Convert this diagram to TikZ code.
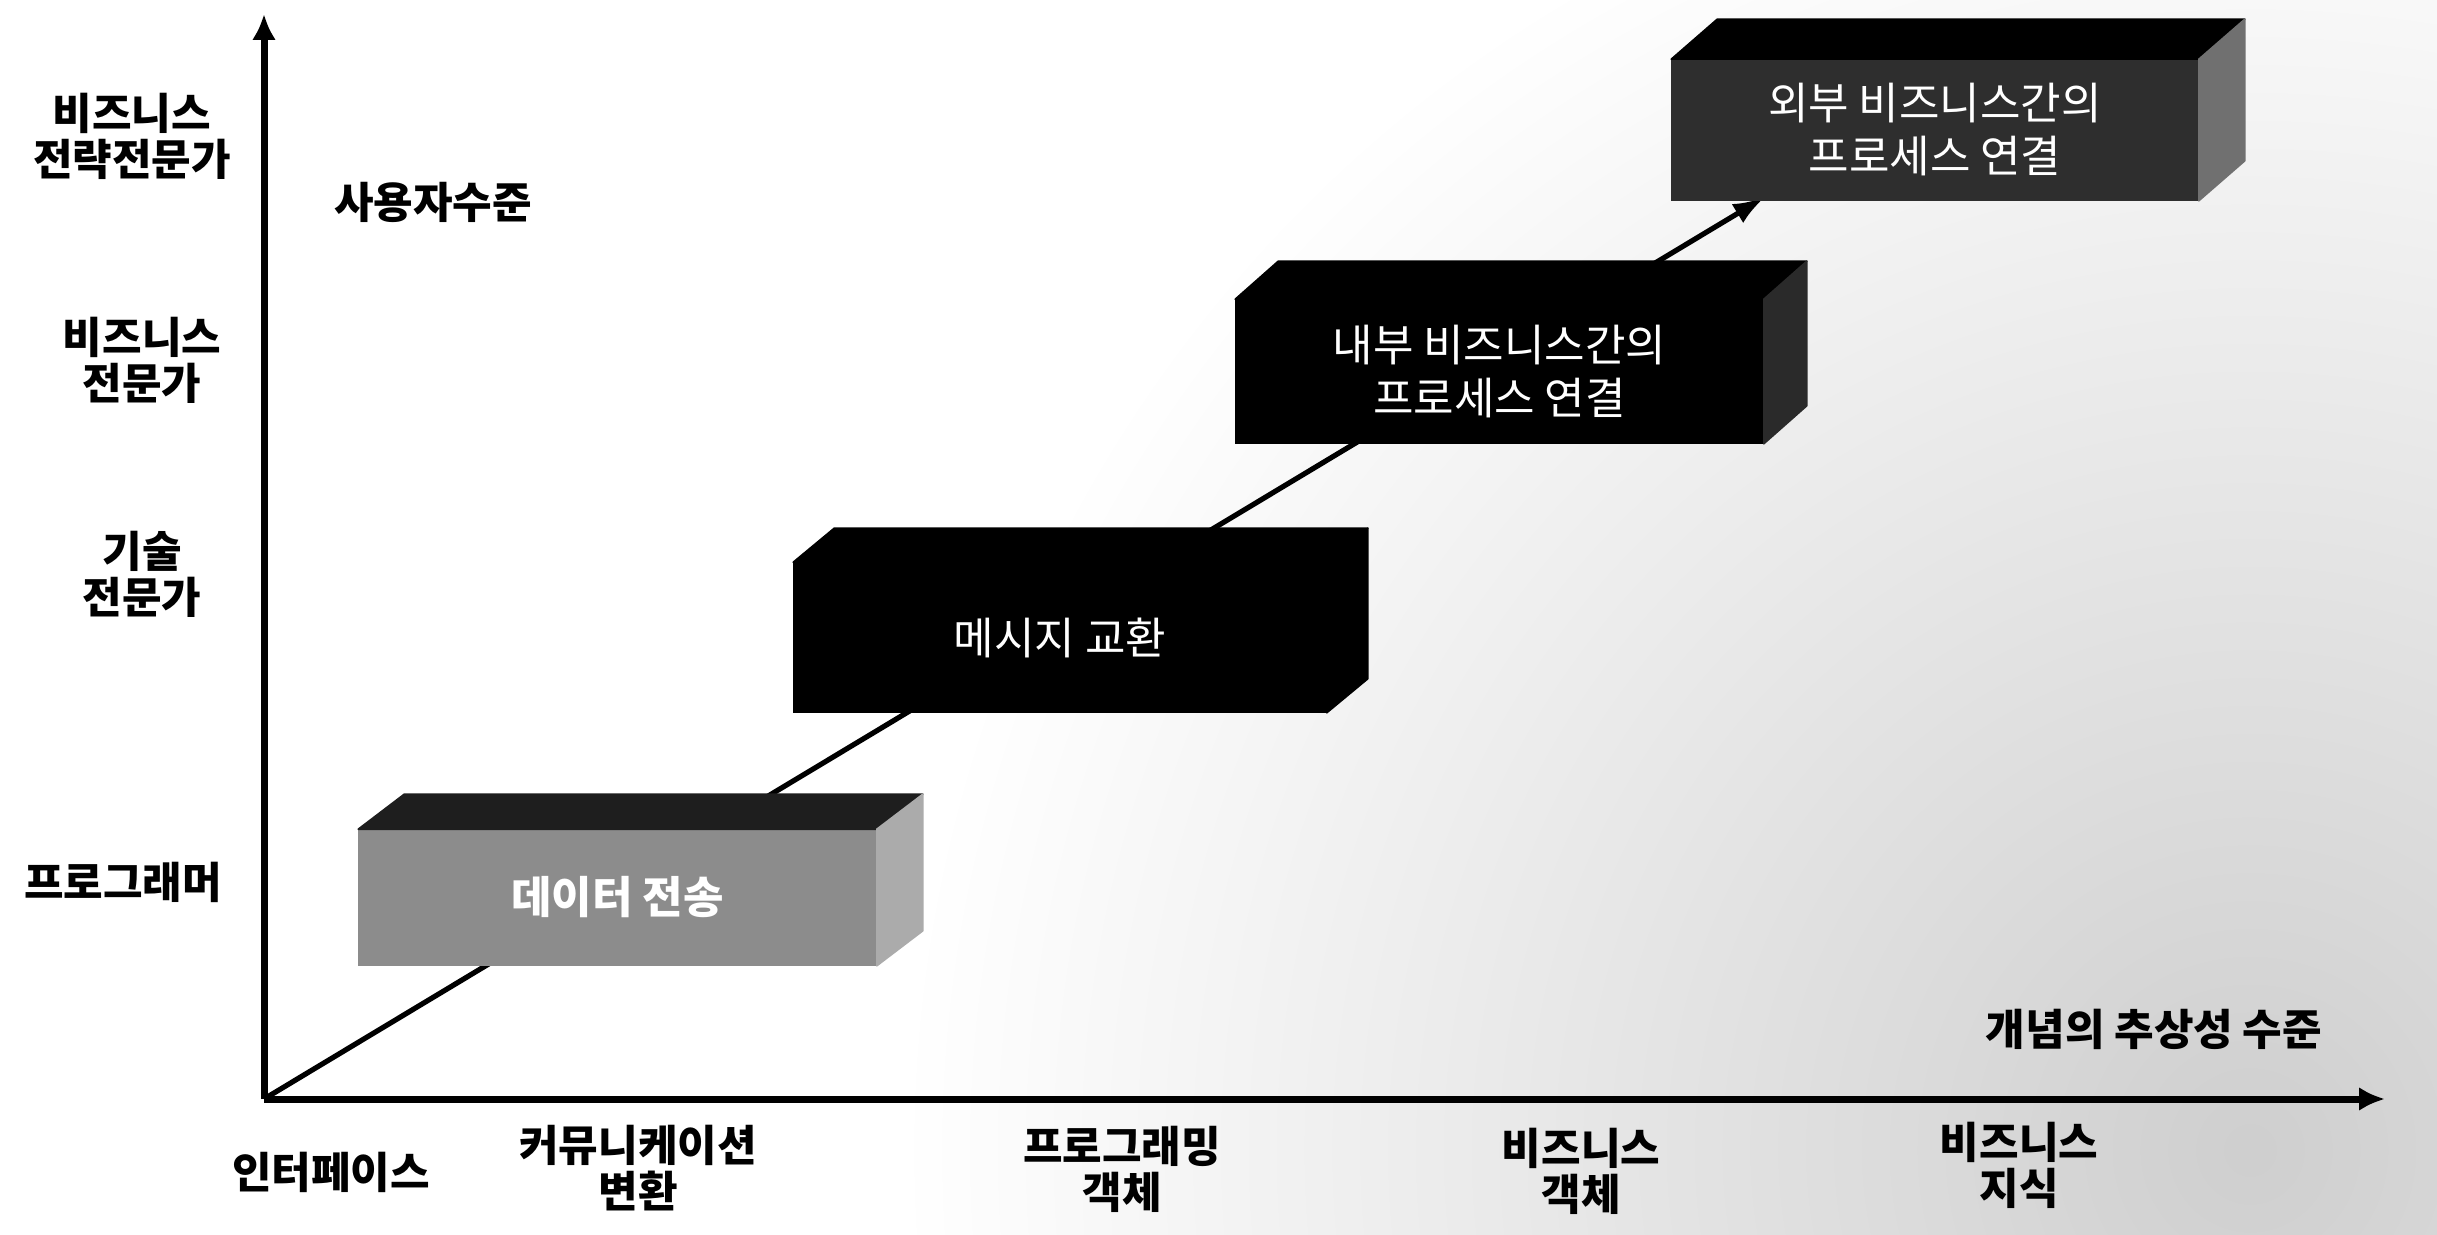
\documentclass[tikz,border=0pt]{standalone}
\usepackage{fontspec}
\setmainfont{Noto Sans CJK KR}
\usetikzlibrary{arrows.meta,calc}
\definecolor{bonefront}{HTML}{8C8C8C}
\definecolor{bonetop}{HTML}{1E1E1E}
\definecolor{boneside}{HTML}{ABABAB}
\definecolor{bfourfront}{HTML}{2E2E2E}
\definecolor{bfourside}{HTML}{707070}
\definecolor{bthreeside}{HTML}{2A2A2A}
\newcommand\boxfaces[5]{%
  \filldraw[fill=#4, draw=#4, line width=0.8pt, line join=round] (#1.north west) -- ++(#2,#3) -- ($(#1.north east)+(#2,#3)$) -- (#1.north east) -- cycle;
  \filldraw[fill=#5, draw=#5, line width=0.8pt, line join=round] (#1.north east) -- ++(#2,#3) -- ($(#1.south east)+(#2,#3)$) -- (#1.south east) -- cycle;}
\begin{document}
\begin{tikzpicture}[x=0.5pt,y=-0.5pt,
  lab/.style={font=\fontsize{21.5}{23}\selectfont\bfseries, align=center, inner sep=0pt},
  boxtxt/.style={font=\fontsize{22}{26.5}\selectfont, text=white, align=center, inner sep=0pt, line width=0.8pt},
  axisline/.style={line width=3.5pt, -{Latex[length=13pt,width=12pt]}},
  diag/.style={line width=2.6pt, -{Latex[length=16pt,width=11pt]}}]
\useasboundingbox (0,0) rectangle (2437,1235);
\fill[white] (0,0) rectangle (2437,1235);
\shade[inner color=gray!38, outer color=white] (2250,1150) circle (1350);
% coordinates
\coordinate (O) at (264,1099);
\coordinate (ytip) at (264,14);
\coordinate (xtip) at (2385,1099);
\coordinate (tip) at (1765,197);
% diagonal
\draw[diag] (O) -- (tip);
% axes
\draw[axisline] (O) -- (ytip);
\draw[axisline] (O) -- (xtip);
% boxes
\node[boxtxt, fill=bonefront, draw=bonefront, minimum width=258.5pt, minimum height=67.5pt, font=\fontsize{22}{26.5}\selectfont\bfseries] (b1) at (617.5,897.5) {데이터 전송};
\boxfaces{b1}{46}{-35}{bonetop}{boneside}
\node[boxtxt, fill=black, draw=black, minimum width=266pt, minimum height=74.5pt] (b2) at (1060,637.5) {메시지 교환};
\boxfaces{b2}{41}{-34}{black}{black}
\node[boxtxt, fill=black, draw=black, minimum width=263.5pt, minimum height=71.5pt] (b3) at (1499.5,371.5) {내부 비즈니스간의\\프로세스 연결};
\boxfaces{b3}{43}{-38}{black}{bthreeside}
\node[boxtxt, fill=bfourfront, draw=bfourfront, minimum width=263pt, minimum height=70pt] (b4) at (1935,130) {외부 비즈니스간의\\프로세스 연결};
\boxfaces{b4}{46}{-40}{black}{bfourside}
% y labels
\node[lab] (y1) at (132,136) {비즈니스\\전략전문가};
\node[lab] (y2) at (142,360) {비즈니스\\전문가};
\node[lab] (y3) at (142,574) {기술\\전문가};
\node[lab] (y4) at (123,882) {프로그래머};
\node[lab] (ylab) at (433,202) {사용자수준};
% x labels
\node[lab] (x1) at (331,1172) {인터페이스};
\node[lab] (x2) at (638,1168) {커뮤니케이션\\변환};
\node[lab] (x3) at (1122,1169) {프로그래밍\\객체};
\node[lab] (x4) at (1581,1171) {비즈니스\\객체};
\node[lab] (x5) at (2019,1165) {비즈니스\\지식};
\node[lab] (xlab) at (2154,1029) {개념의 추상성 수준};
\end{tikzpicture}
\end{document}
